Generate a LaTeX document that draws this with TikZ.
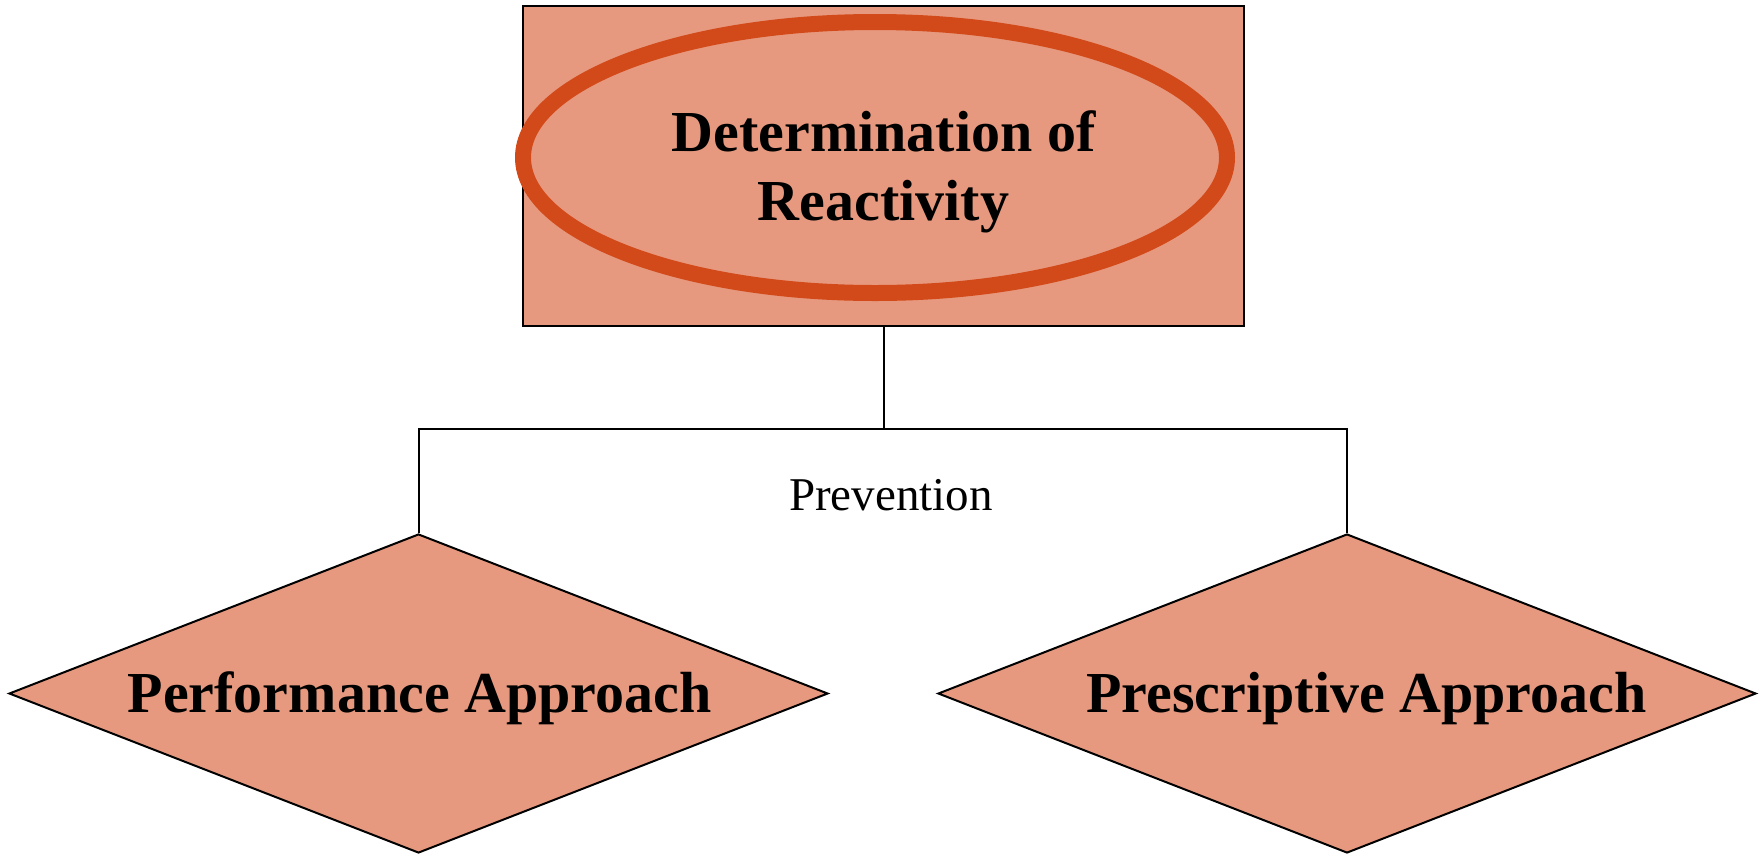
\documentclass[tikz,border=0pt]{standalone}
\usepackage{fontspec}
\setmainfont{Liberation Serif}
\usetikzlibrary{shapes.geometric}
\definecolor{salmon}{RGB}{231,153,127}
\definecolor{rim}{RGB}{210,74,26}
\tikzset{
  boxshape/.style={draw=black, line width=2pt, fill=salmon, inner sep=0pt},
  ringshape/.style={ellipse, draw=rim, line width=16pt, inner sep=0pt},
  diashape/.style={diamond, draw=black, line width=2pt, fill=salmon, inner sep=0pt},
  bigtext/.style={font=\bfseries\fontsize{58}{69}\selectfont, inner sep=0pt, align=center},
  smalltext/.style={font=\fontsize{47}{56}\selectfont, inner sep=0pt},
  conn/.style={draw=black, line width=2pt}
}
\begin{document}
\begin{tikzpicture}[x=1pt,y=-1pt]
\useasboundingbox (0,0) rectangle (1763,855);
\node[boxshape, minimum width=721pt, minimum height=320pt] (top) at (883.5,166) {};
\node[ringshape, minimum width=704pt, minimum height=271pt] (ring) at (875,157.5) {};
\node[bigtext] (title) at (883.5,172) {Determination of\\Reactivity};
\node[diashape, minimum width=819pt, minimum height=319pt] (ldia) at (418.5,693.5) {};
\node[diashape, minimum width=818pt, minimum height=319pt] (rdia) at (1347,693.5) {};
\node[bigtext, anchor=base] (ltext) at (419.5,712) {Performance Approach};
\node[bigtext, anchor=base] (rtext) at (1366.5,712) {Prescriptive Approach};
\coordinate (j) at (883.5,429);
\draw[conn] (top.south) -- (j);
\draw[conn] (ldia.north) |- (j) -| (rdia.north);
\node[smalltext, anchor=base] (prev) at (891,510) {Prevention};
\end{tikzpicture}
\end{document}
